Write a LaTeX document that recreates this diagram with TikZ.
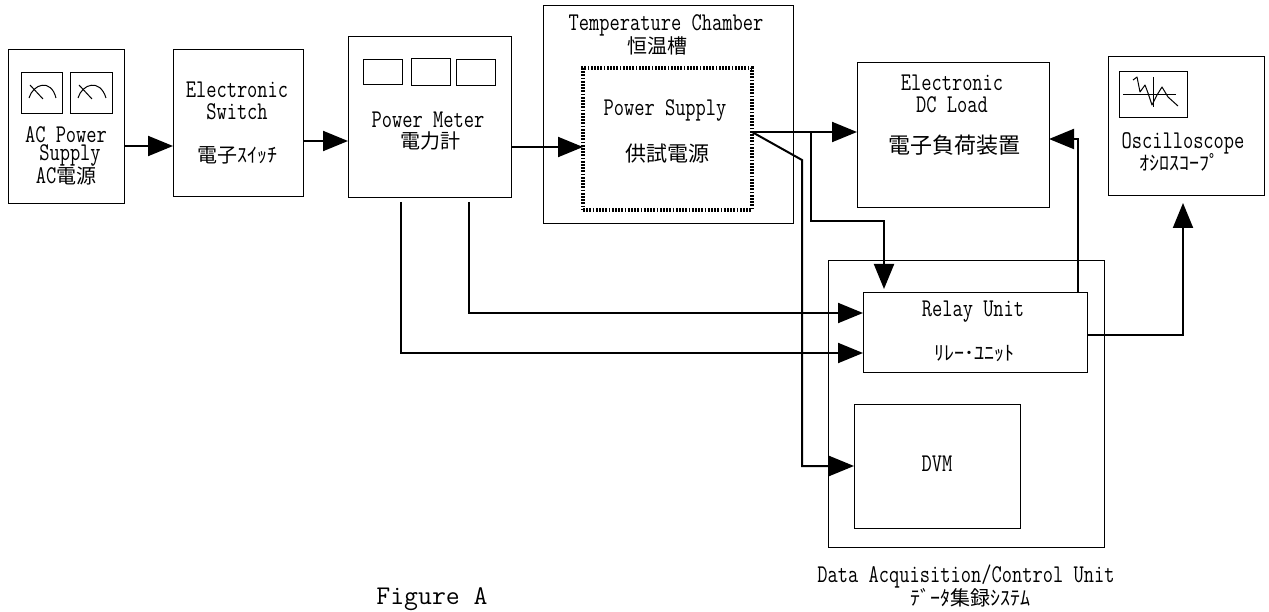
\documentclass[tikz,border=0pt]{standalone}
\usepackage{fontspec}
\usetikzlibrary{arrows.meta}
\newfontfamily\cjk{Noto Sans CJK JP}
\newfontfamily\tallmono[FakeStretch=0.78]{Latin Modern Mono}
\newfontfamily\figmono{Latin Modern Mono}
\tikzset{
  x=1pt,y=-1pt,
  blockbox/.style={draw=black,line width=1pt,inner sep=0pt,outer sep=0pt,rectangle},
  gauge/.style={draw=black,line width=1pt},
  dottedbox/.style={blockbox,line width=3.5pt,dash pattern=on 1.8pt off 1.4pt},
  conn/.style={draw=black,line width=2pt,-{Triangle[length=25pt,width=20pt]}},
  lbl/.style={inner sep=0pt,font=\fontsize{25.5}{27}\selectfont\tallmono,align=center,text=black},
  kana/.style={inner sep=0pt,font=\fontsize{20}{22}\selectfont\cjk,align=center,text=black},
  figlbl/.style={inner sep=0pt,font=\fontsize{27}{30}\selectfont\figmono,text=black},
}
\newcommand{\blk}[6][blockbox]{\node[#1,minimum width=#5pt-#3pt,minimum height=#6pt-#4pt] (#2) at ({(#3+#5)/2},{(#4+#6)/2}) {};}
\begin{document}
\begin{tikzpicture}
\clip (0,0) rectangle (1269,612);
\fill[white] (0,0) rectangle (1269,612);
% boxes
\blk{ac}{8}{50}{124}{204}
\blk{meterA}{21}{73}{62}{114}
\blk{meterB}{70}{73}{112}{114}
\blk{switch}{173}{50}{303}{197}
\blk{pm}{348}{37}{511}{198}
\blk{dispA}{363}{60}{402}{85}
\blk{dispB}{411}{59}{450}{86}
\blk{dispC}{456}{60}{495}{86}
\blk{chamber}{543}{6}{793}{224}
\blk[dottedbox]{psu}{583}{68}{752}{210}
\blk{load}{857}{63}{1049}{208}
\blk{scope}{1108}{57}{1264}{196}
\blk{screen}{1119}{72}{1187}{118}
\blk{daq}{828}{261}{1104}{547}
\blk{relay}{863}{293}{1087}{372}
\blk{dvm}{854}{404}{1020}{528}
% gauge faces
\draw[gauge] (29,98) .. controls (33,84) and (51,78) .. (56,98);
\draw[gauge] (30,85) -- (43,99);
\draw[gauge] (78,98) .. controls (82,84) and (100,78) .. (106,98);
\draw[gauge] (79,85) -- (92,99);
% oscilloscope trace
\draw[gauge] (1123,95) -- (1176,95);
\draw[gauge] (1153,77) -- (1153,107);
\draw[gauge,line join=round] (1133,80) -- (1137,77) -- (1140,92) -- (1145,85) -- (1148,93) -- (1152,105) -- (1157,95) -- (1162,87) -- (1168,97) -- (1178,106);
% labels
\node[lbl] (t1) at (66,135) {AC Power};
\node[lbl] (t2) at (70,155) {Supply};
\node[lbl] (t3) at (66,176) {AC{\fontsize{20}{22}\selectfont\cjk 電源}};
\node[lbl] (t4) at (237,90) {Electronic};
\node[lbl] (t5) at (237,112) {Switch};
\node[kana] (t6) at (237,155) {電子ｽｲｯﾁ};
\node[lbl] (t7) at (428,120) {Power Meter};
\node[kana] (t8) at (430,141) {電力計};
\node[lbl] (t9) at (666,25) {Temperature Chamber};
\node[kana] (t10) at (657,46) {恒温槽};
\node[lbl] (t11) at (665,110) {Power Supply};
\node[kana] (t12) at (667,154) {\fontsize{21}{23}\selectfont 供試電源};
\node[lbl] (t13) at (952,83) {Electronic};
\node[lbl] (t14) at (952,105) {DC Load};
\node[kana] (t15) at (954,145) {\fontsize{22}{24}\selectfont 電子負荷装置};
\node[lbl] (t16) at (1183,143) {Oscilloscope};
\node[kana] (t17) at (1179,162) {ｵｼﾛｽｺｰﾌﾟ};
\node[lbl] (t18) at (973,312) {Relay Unit};
\node[kana] (t19) at (974,354) {ﾘﾚｰ･ﾕﾆｯﾄ};
\node[lbl] (t20) at (937,464) {DVM};
\node[lbl] (t21) at (966,576) {Data Acquisition/Control Unit};
\node[kana] (t22) at (970,598) {ﾃﾞｰﾀ集録ｼｽﾃﾑ};
\node[figlbl,anchor=south] (t23) at (432,611) {Figure A};
% junctions
\coordinate (psout) at (752,132);
\coordinate (tap) at (811,132);
\coordinate (kink) at (802,160);
% connectors
\draw[conn] (ac.east |- 0,146) -- (switch.west |- 0,146);
\draw[conn] (switch.east |- 0,141) -- (pm.west |- 0,141);
\draw[conn] (pm.east |- 0,147) -- (psu.west |- 0,147);
\draw[conn] (psout) -- (load.west |- psout);
\draw[conn] (tap) -- (811,221) -- (884,221) -- (884,289);
\draw[conn] (psout) -- (kink) -- (kink |- dvm.west) -- (dvm.west);
\draw[conn] (469,202) -- (469,313) -- (relay.west |- 0,313);
\draw[conn] (401,202) -- (401,353) -- (relay.west |- 0,353);
\draw[conn] (1078,293) -- (1078,139) -- (load.east |- 0,139);
\draw[conn] (relay.east |- 0,335) -- (1183,335) -- (1183,203);
\end{tikzpicture}
\end{document}
